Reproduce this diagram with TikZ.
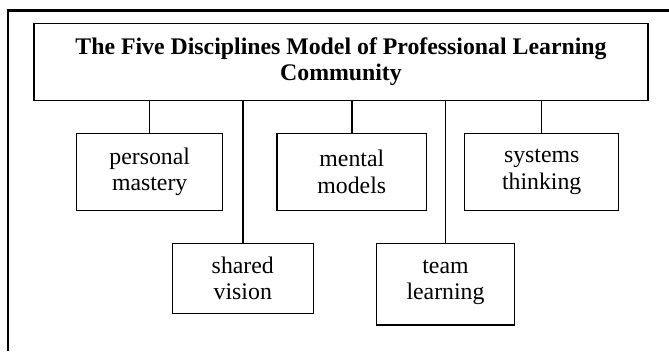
\documentclass[tikz,border=0pt]{standalone}
\usepackage{fontspec}
\setmainfont{Liberation Serif}
\begin{document}
\begin{tikzpicture}[x=1pt,y=-1pt,
  box/.style={draw,line width=1.5pt,rectangle,inner sep=0pt,align=center,
    font=\fontsize{23.8}{26.5}\selectfont},
  link/.style={line width=1.5pt}]
\useasboundingbox (0,0) rectangle (669,351);
\fill[white] (0,0) rectangle (669,351);
% outer frame
\coordinate (fb) at (8,351);
\coordinate (ftl) at (8,10.5);
\coordinate (ftr) at (669,10.5);
\draw[line width=2.4pt] (fb) -- (ftl) -- (ftr);
% title
\node[box,minimum width=614pt,minimum height=77.4pt,font=\fontsize{23.8}{26}\selectfont\bfseries]
  (title) at (341,62) {The Five Disciplines Model of Professional Learning\\Community};
% first row
\node[box,minimum width=146pt,minimum height=77.4pt] (pm) at (149.7,172) {personal\\mastery};
\node[box,minimum width=149.7pt,minimum height=77.4pt] (mm) at (351.8,172) {mental\\models};
\node[box,minimum width=154pt,minimum height=77.4pt] (st) at (541.7,172) {systems\\thinking};
% second row
\node[box,minimum width=141pt,minimum height=70pt] (sv) at (242.8,278.3) {shared\\vision};
\node[box,minimum width=137.6pt,minimum height=81.7pt] (tl) at (445.5,284.2)
  {\raisebox{3pt}[\height][\depth]{\begin{tabular}{@{}c@{}}team\\learning\end{tabular}}};
% connectors
\foreach \n in {pm,mm,st,sv,tl}
  \draw[link] (\n.north) -- (\n.north |- title.south);
\end{tikzpicture}
\end{document}
